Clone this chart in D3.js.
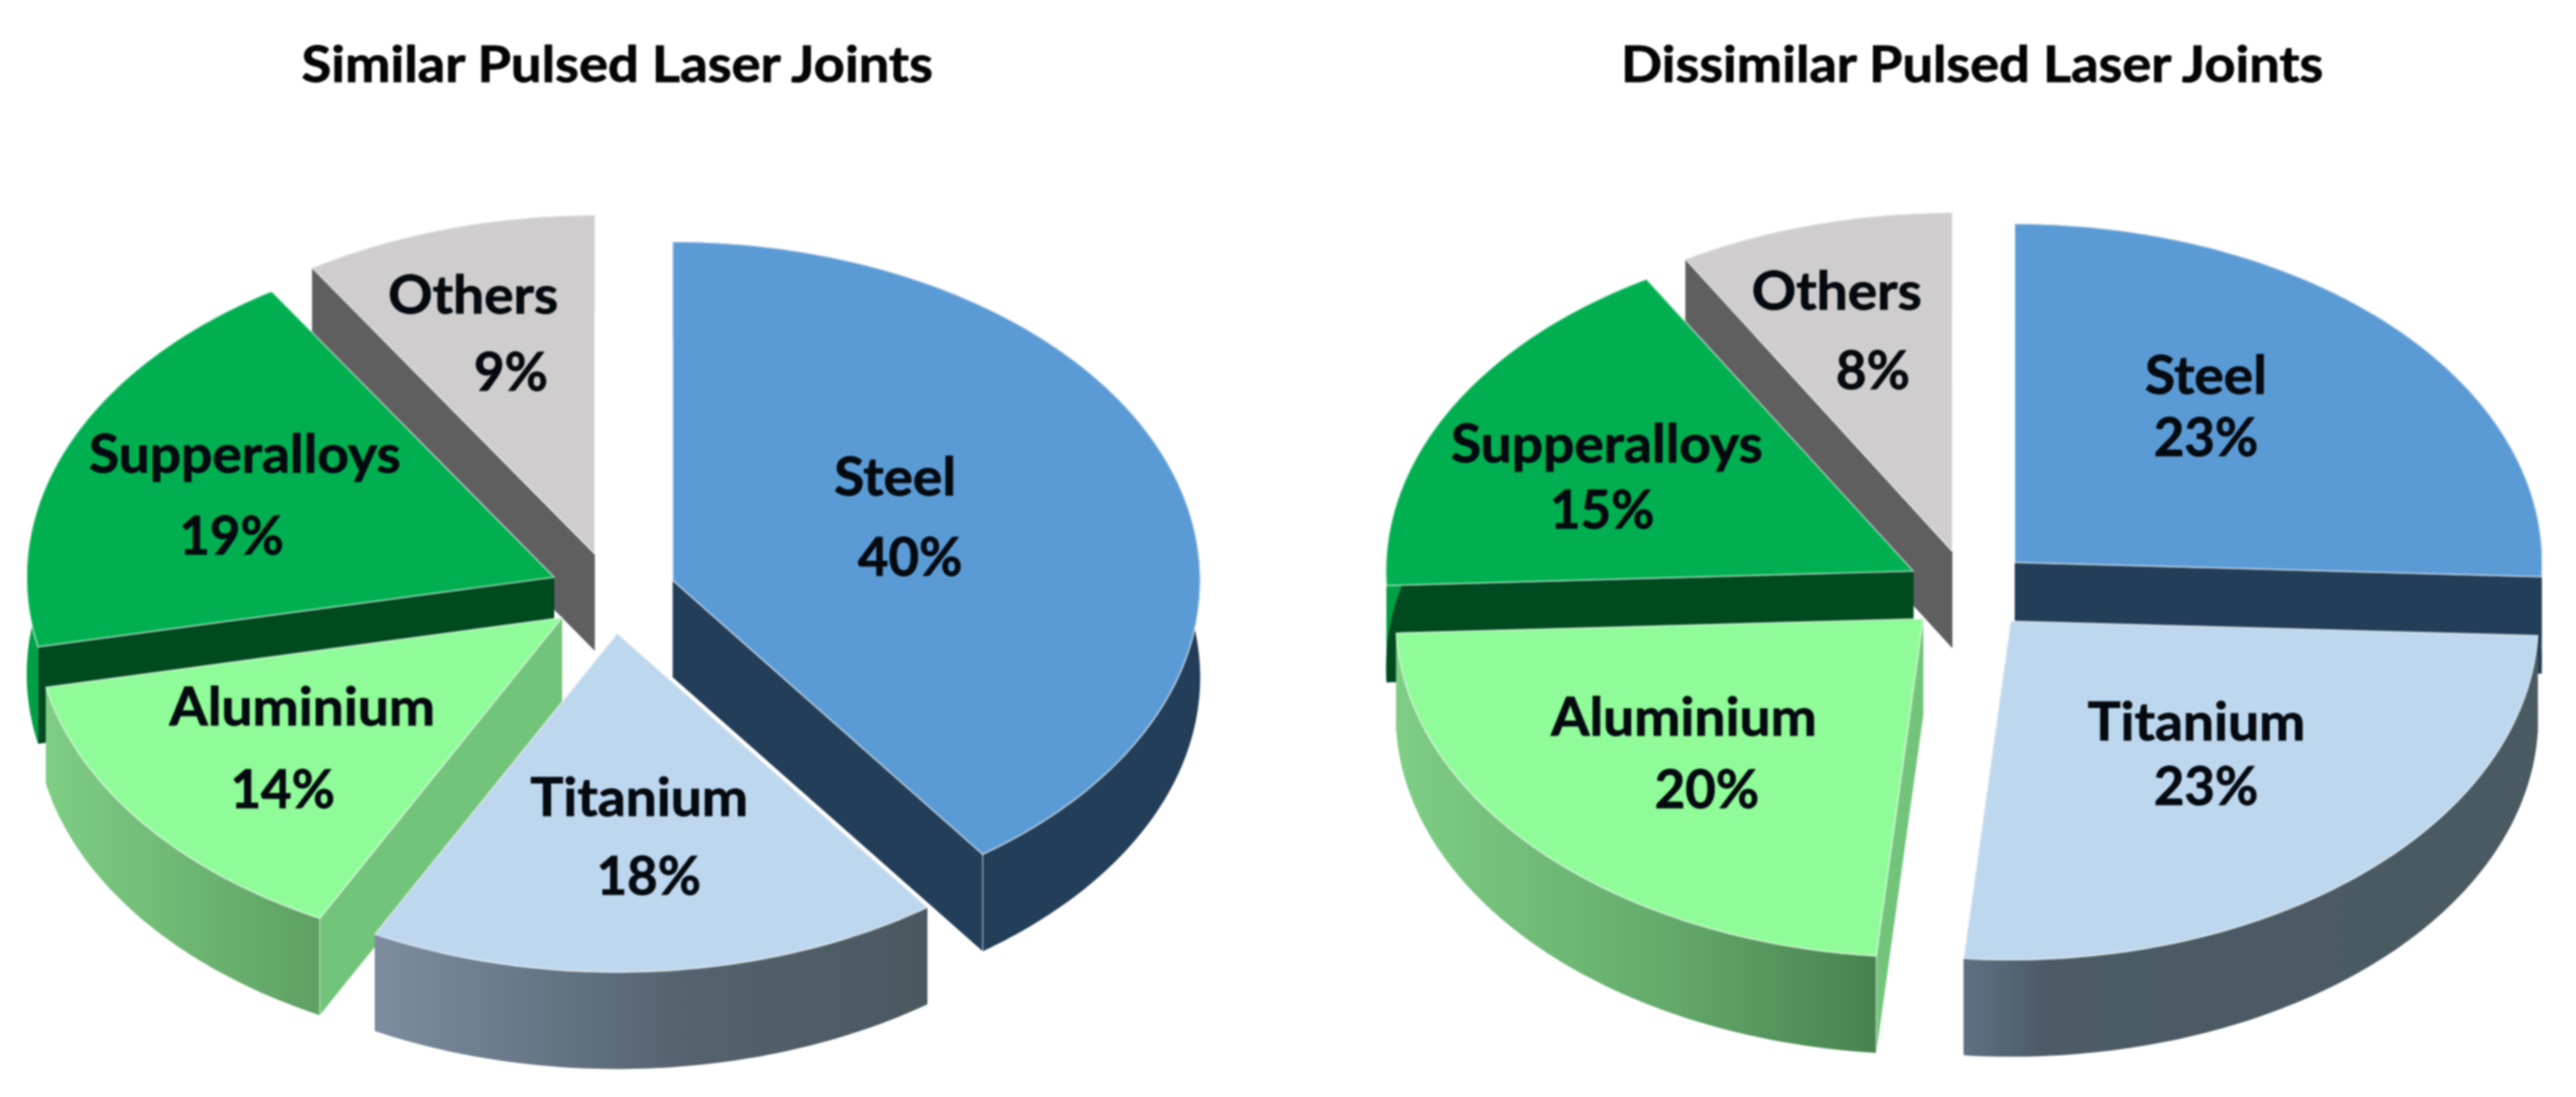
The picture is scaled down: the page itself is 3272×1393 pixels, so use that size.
<!DOCTYPE html>
<html><head><meta charset="utf-8">
<script src="https://cdn.jsdelivr.net/npm/d3@7"></script>
<style>html,body{margin:0;background:#fff;overflow:hidden}svg{display:block;filter:blur(0.9px)}</style>
</head><body><div id="c"></div>
<script>
const categories = ["Steel","Titanium","Aluminium","Supperalloys","Others"];
const similarValues = [40,17.6,14.1,19.3,9];
const dissimilarValues = [22.8,22.86,20.34,15.3,7.5];
const chartTitles = ["Similar Pulsed Laser Joints","Dissimilar Pulsed Laser Joints"];

// layout and style, kept apart from the data
const W=3272,H=1393,RX=670,RY=430,DEPTH=123,EXPLODE=0.12,FS=67,TITLE_FS=64,NAME_STRETCH=1.045;
const topColors=["#5b9bd5","#bdd7ee","#90fb99","#00b050","#cfcdcd"];
const sideColors=["#233e58","#4a5a63","#73c47b","#004a20","#5f5f5f"];
const paintOrder=[4,0,3,2,1];
const layouts=[
 {cx:778,cy:753,titleX:784,titleW:802,wallStops:[
   {i:1,stops:[["0%","#7c8da0"],["55%","#55636f"],["100%","#4a5860"]]},
   {i:2,stops:[["0%","#7fce85"],["100%","#5da063"]]}],
  labels:[[1137,607,1156,709],[812,1014,824,1114],[384,899,359,1004],[311,578,294,682],[601,376,649,474]],
  outer:{0:"#233e58",3:"#00a045",4:"#5f5f5f"}},
 {cx:2501,cy:750,titleX:2505,titleW:892,wallStops:[
   {i:1,stops:[["0%","#5f7084"],["14%","#4c5b66"],["100%","#4a5a62"]]},
   {i:2,stops:[["0%","#7fce85"],["55%","#65ab6c"],["100%","#47824e"]]}],
  labels:[[2802,478,2802,557],[2790,918,2802,1000],[2139,912,2168,1004],[2041,565,2035,649],[2333,371,2379,472]],
  outer:{0:"#233e58",3:"#00a045",4:"#5f5f5f"}}
];
const svg=d3.select("#c").append("svg").attr("width",W).attr("height",H).style("font-family","Lato, 'Open Sans', sans-serif");
svg.append("rect").attr("width",W).attr("height",H).attr("fill","#fff");
const defs=svg.append("defs");
const pie=d3.pie().sort(null).value(d=>d);
const line=d3.line();

[similarValues,dissimilarValues].forEach((values,p)=>{
  const L=layouts[p];
  const sx=d3.scaleLinear().domain([-1,1]).range([L.cx-RX,L.cx+RX]);
  const sy=d3.scaleLinear().domain([-1,1]).range([L.cy-RY,L.cy+RY]);
  const arcs=pie(values);
  const g=svg.append("g");
  L.wallStops.forEach(w=>{
    const lg=defs.append("linearGradient").attr("id",`w${p}-${w.i}`).attr("x1",0).attr("x2",1).attr("y1",0).attr("y2",0);
    w.stops.forEach(s=>lg.append("stop").attr("offset",s[0]).attr("stop-color",s[1]));
  });
  paintOrder.forEach(i=>{
    const a=arcs[i], mid=(a.startAngle+a.endAngle)/2;
    const ox=EXPLODE*Math.sin(mid), oy=-EXPLODE*Math.cos(mid);
    const pt=(ang,r=1,d=0)=>[sx(ox+r*Math.sin(ang)),sy(oy-r*Math.cos(ang))+d];
    const n=Math.max(8,Math.round((a.endAngle-a.startAngle)*60));
    const angs=d3.range(n+1).map(k=>a.startAngle+(a.endAngle-a.startAngle)*k/n);
    const apex=pt(0,0), apexD=pt(0,0,DEPTH);
    const s=g.append("g").attr("class","slice");
    // radial walls first: a back-facing one must stay behind the outer wall
    [a.startAngle,a.endAngle].forEach(t=>{
      s.append("path").attr("d",line([apex,pt(t),pt(t,1,DEPTH),apexD])+"Z").attr("fill",sideColors[i]);
    });
    // outer wall
    const wall=angs.map(t=>pt(t)).concat(angs.slice().reverse().map(t=>pt(t,1,DEPTH)));
    const grad=L.wallStops.find(w=>w.i===i);
    s.append("path").attr("d",line(wall)+"Z").attr("fill",grad?`url(#w${p}-${i})`:(L.outer[i]||sideColors[i]));
    // corner highlight where radial wall meets outer wall
    const corner=t=>s.append("path").attr("d",line([pt(t),pt(t,1,DEPTH)])).attr("stroke","rgba(255,255,255,.5)").attr("stroke-width",1.5).attr("fill","none");
    if(i===2) corner(a.startAngle);
    if(i===0 && p===0) corner(a.endAngle);
    // top face
    s.append("path").attr("d",line([apex].concat(angs.map(t=>pt(t))))+"Z")
      .attr("fill",topColors[i]).attr("stroke","rgba(255,255,255,.55)").attr("stroke-width",2).attr("stroke-linejoin","round");
  });
  // labels
  arcs.forEach((a,i)=>{
    const q=L.labels[i];
    const t=(x,y,str)=>g.append("text").attr("x",x).attr("y",y+FS*0.33).attr("text-anchor","middle")
      .attr("font-size",FS).attr("font-weight",700).attr("fill","#050a10").attr("stroke","#050a10").attr("stroke-width",1).text(str);
    const nm=t(q[0],q[1],categories[i]);
    nm.attr("textLength",nm.node().getComputedTextLength()*NAME_STRETCH).attr("lengthAdjust","spacingAndGlyphs");
    t(q[2],q[3],Math.round(a.data)+"%");
  });
  svg.append("text").attr("x",L.titleX).attr("y",83+TITLE_FS*0.33).attr("text-anchor","middle")
    .attr("font-size",TITLE_FS).attr("font-weight",700).attr("fill","#050505").attr("stroke","#050505").attr("stroke-width",1)
    .attr("textLength",L.titleW).attr("lengthAdjust","spacingAndGlyphs").text(chartTitles[p]);
});
</script></body></html>
